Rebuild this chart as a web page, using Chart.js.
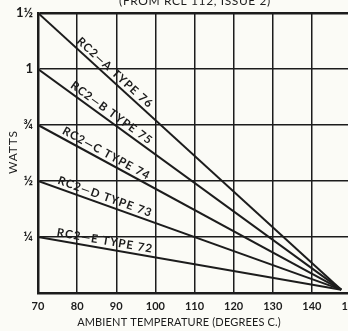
<!DOCTYPE html>
<html><head><meta charset="utf-8">
<script src="https://cdn.jsdelivr.net/npm/chart.js@4"></script>
<style>
html,body{margin:0;padding:0;background:#fbfbf6;overflow:hidden;width:348px;height:331px;}
#wrap{position:absolute;left:0;top:-14px;width:380px;height:345px;}
</style></head><body>
<div id="wrap"><canvas id="c" width="380" height="345"></canvas></div>
<script>
// ---- data ----
const temperatures = [70, 147.5];
const seriesNames = ['RC2—A TYPE 76', 'RC2—B TYPE 75', 'RC2—C TYPE 74', 'RC2—D TYPE 73', 'RC2—E TYPE 72'];
const typeA = [1.5, 0.015];
const typeB = [1, 0.015];
const typeC = [0.75, 0.015];
const typeD = [0.5, 0.015];
const typeE = [0.25, 0.015];
const xTickValues = [70, 80, 90, 100, 110, 120, 130, 140, 150];
const yTickValues = [0, 0.25, 0.5, 0.75, 1, 1.5];
const yTickLabels = ['', '¼', '½', '¾', '1', '1½'];
const titleText = '(FROM RCL 112, ISSUE 2)';
const xTitle = 'AMBIENT TEMPERATURE (DEGREES C.)';
const yTitle = 'WATTS';
const labelStartTemps = [79, 77.5, 75.5, 74.5, 74.5];
const allSeries = [typeA, typeB, typeC, typeD, typeE];

const INK = '#1c1c1c';

// y axis whose ticks are equally spaced (as drawn in the original)
class StepScale extends Chart.LinearScale {
  buildTicks() { return yTickValues.map(v => ({ value: v })); }
  _dec(v) {
    const s = yTickValues, n = s.length - 1;
    if (v <= s[0]) return 0;
    for (let i = 0; i < n; i++) if (v <= s[i + 1]) return (i + (v - s[i]) / (s[i + 1] - s[i])) / n;
    return 1;
  }
  getPixelForValue(v) { return this.getPixelForDecimal(this._dec(v)); }
  getValueForPixel(p) {
    const n = yTickValues.length - 1;
    const d = this.getDecimalForPixel(p) * n;
    const i = Math.max(0, Math.min(Math.floor(d), n - 1));
    return yTickValues[i] + (d - i) * (yTickValues[i + 1] - yTickValues[i]);
  }
}
StepScale.id = 'stepped';
StepScale.defaults = { ticks: {} };
Chart.register(StepScale);

const annot = {
  id: 'annot',
  afterDatasetsDraw(chart) {
    const ctx = chart.ctx, xs = chart.scales.x, ys = chart.scales.y;
    const tN = temperatures.length - 1;
    ctx.save();
    ctx.fillStyle = INK;
    allSeries.forEach((d, i) => {
      const x0 = xs.getPixelForValue(temperatures[0]), y0 = ys.getPixelForValue(d[0]);
      const x1 = xs.getPixelForValue(temperatures[tN]), y1 = ys.getPixelForValue(d[tN]);
      const ang = Math.atan2(y1 - y0, x1 - x0);
      const f = (labelStartTemps[i] - temperatures[0]) / (temperatures[tN] - temperatures[0]);
      ctx.save();
      ctx.translate(x0 + f * (x1 - x0), y0 + f * (y1 - y0));
      ctx.rotate(ang);
      ctx.font = 'bold 11.5px Lato';
      ctx.letterSpacing = '1px';
      ctx.textAlign = 'left';
      ctx.textBaseline = 'alphabetic';
      ctx.fillText(seriesNames[i], 0, -4);
      ctx.restore();
    });
    // titles
    ctx.letterSpacing = '0.15px';
    ctx.font = '11px Lato';
    ctx.textAlign = 'center';
    ctx.textBaseline = 'alphabetic';
    ctx.fillText(xTitle, 179, 340);
    ctx.letterSpacing = '0.6px';
    ctx.font = '12px Lato';
    ctx.fillText(titleText, 195, 19);
    ctx.save();
    ctx.translate(17, 166);
    ctx.rotate(-Math.PI / 2);
    ctx.letterSpacing = '0.8px';
    ctx.font = '12px Lato';
    ctx.fillText(yTitle, 0, 0);
    ctx.restore();
    ctx.restore();
  }
};

const mk = (data) => ({ data: data.map((v, i) => ({ x: temperatures[i], y: v })), borderColor: INK, borderWidth: 2, pointRadius: 0, fill: false, tension: 0 });

new Chart(document.getElementById('c'), {
  type: 'line',
  data: { datasets: allSeries.map(mk) },
  options: {
    responsive: false,
    animation: false,
    events: [],
    layout: { padding: { top: 27, right: 29, left: 0, bottom: 0 } },
    plugins: { legend: { display: false }, tooltip: { enabled: false }, title: { display: false } },
    scales: {
      x: {
        type: 'linear', min: 70, max: 150,
        afterBuildTicks: (s) => { s.ticks = xTickValues.map(v => ({ value: v })); },
        afterFit: (s) => { s.height = 38; },
        grid: { color: INK, lineWidth: 1.5, drawTicks: false },
        border: { color: INK, width: 2.5 },
        ticks: { color: INK, font: { family: 'Lato', weight: 'bold', size: 11 }, padding: 7, maxRotation: 0, autoSkip: false, callback: (v) => String(v) }
      },
      y: {
        type: 'stepped', min: 0, max: 1.5,
        afterFit: (s) => { s.width = 38; },
        grid: { color: INK, lineWidth: (c) => (c.tick && c.tick.value === 1.5 ? 2.5 : 1.5), drawTicks: false },
        border: { color: INK, width: 2.5 },
        ticks: { color: INK, font: { family: 'Lato', weight: 'bold', size: 13 }, padding: 5, autoSkip: false, callback: (v, i) => yTickLabels[i] }
      }
    }
  },
  plugins: [annot]
});
</script>
</body></html>
